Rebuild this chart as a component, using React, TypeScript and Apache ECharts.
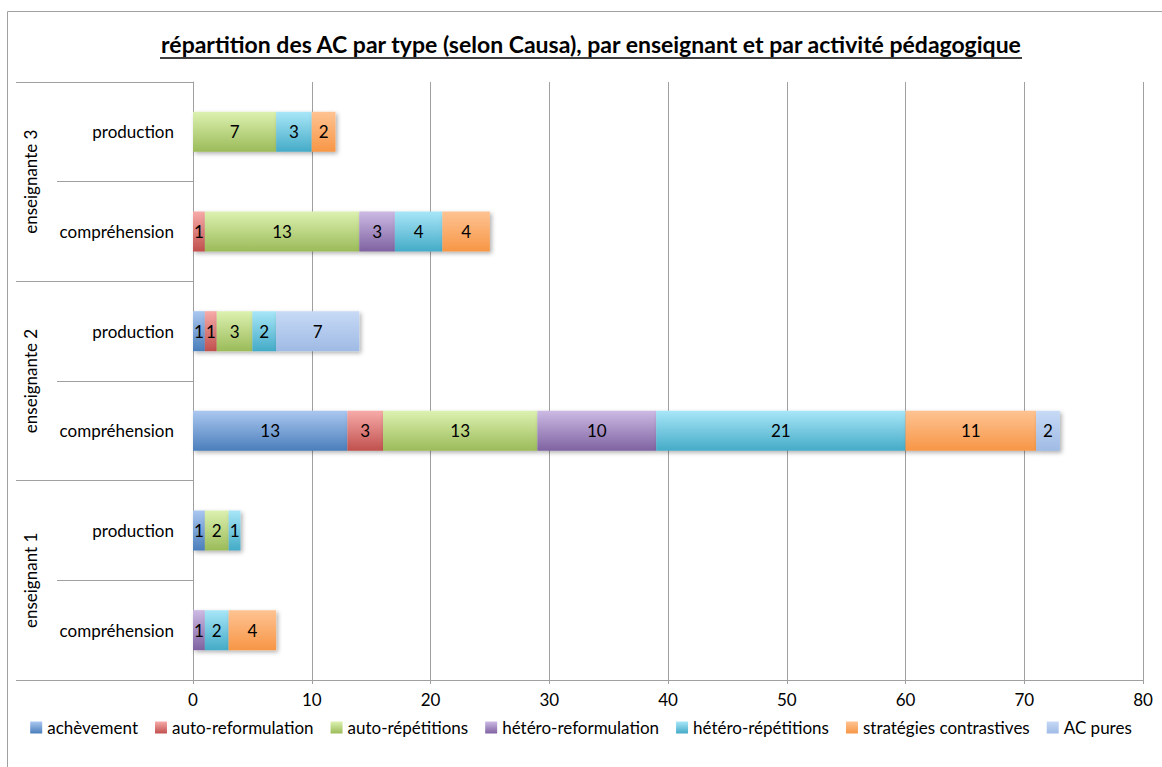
import React, { useEffect, useRef } from "react";
import * as echarts from "echarts";

const categories = ["compréhension", "production", "compréhension", "production", "compréhension", "production"];
const groups = ["enseignant 1", "enseignante 2", "enseignante 3"];
const titleText = "répartition des AC par type (selon Causa), par enseignant et par activité pédagogique";

const seriesNames = [
  "achèvement",
  "auto-reformulation",
  "auto-répétitions",
  "hétéro-reformulation",
  "hétéro-répétitions",
  "stratégies contrastives",
  "AC pures",
];
const achevement = [0, 1, 13, 1, 0, 0];
const autoReformulation = [0, 0, 3, 1, 1, 0];
const autoRepetitions = [0, 2, 13, 3, 13, 7];
const heteroReformulation = [1, 0, 10, 0, 3, 0];
const heteroRepetitions = [2, 1, 21, 2, 4, 3];
const strategiesContrastives = [4, 0, 11, 0, 4, 2];
const acPures = [0, 0, 2, 7, 0, 0];
const seriesValues = [achevement, autoReformulation, autoRepetitions, heteroReformulation, heteroRepetitions, strategiesContrastives, acPures];

const xMin = 0;
const xMax = 80;
const xInterval = 10;

const gradients = [
  ["#aac7f0", "#4a7ebb"],
  ["#f7aba9", "#c0504d"],
  ["#dcf1b0", "#9bbb59"],
  ["#ccbae4", "#7f62a1"],
  ["#a8e6f8", "#44abc7"],
  ["#fec392", "#f79646"],
  ["#c7daf6", "#9fbae4"],
];

const FONT = "Lato";
const GREY = "#a0a0a0";
const FS = 17;

export default function App() {
  const ref = useRef<HTMLDivElement>(null);
  useEffect(() => {
    if (!ref.current) return;
    const chart = echarts.init(ref.current, null, { renderer: "svg" });

    const titleSize = 23;
    let titleW = 904;
    try {
      const ctx = document.createElement("canvas").getContext("2d");
      if (ctx) {
        ctx.font = `bold ${titleSize}px ${FONT}`;
        titleW = ctx.measureText(titleText).width;
      }
    } catch (e) {}
    const titleCx = 591;

    const series = seriesNames.map((name, i) => ({
      name,
      type: "bar",
      stack: "total",
      yAxisIndex: 0,
      barWidth: 40,
      data: seriesValues[i].map((v) => (v === 0 ? null : v)),
      itemStyle: {
        color: new echarts.graphic.LinearGradient(0, 0, 0, 1, [
          { offset: 0, color: gradients[i][0] },
          { offset: 1, color: gradients[i][1] },
        ]),
        shadowColor: "rgba(0,0,0,0.3)",
        shadowBlur: 4,
        shadowOffsetX: 2,
        shadowOffsetY: 2,
      },
      label: {
        show: true,
        position: "inside",
        color: "#000",
        fontFamily: FONT,
        fontSize: FS,
      },
    }));

    chart.setOption({
      animation: false,
      backgroundColor: "#fff",
      grid: { left: 193, right: 19, top: 82, bottom: 87, containLabel: false },
      legend: {
        data: seriesNames,
        left: "center",
        top: 714,
        icon: "rect",
        itemWidth: 12,
        itemHeight: 12,
        itemGap: 17,
        textStyle: { fontFamily: FONT, fontSize: FS, color: "#000" },
      },
      xAxis: {
        type: "value",
        min: xMin,
        max: xMax,
        interval: xInterval,
        axisLine: { show: true, lineStyle: { color: GREY } },
        axisTick: { show: true, length: 4, lineStyle: { color: GREY } },
        splitLine: { show: true, lineStyle: { color: GREY, width: 1 } },
        axisLabel: { color: "#000", fontFamily: FONT, fontSize: FS, margin: 11 },
      },
      yAxis: [
        {
          type: "category",
          data: categories,
          position: "left",
          axisLine: { show: true, lineStyle: { color: GREY } },
          axisTick: { show: true, interval: 0, length: 136, lineStyle: { color: GREY } },
          axisLabel: { interval: 0, color: "#000", fontFamily: FONT, fontSize: FS, margin: 19 },
        },
        {
          type: "category",
          data: groups,
          position: "left",
          offset: 0,
          axisLine: { show: false },
          axisTick: { show: true, interval: 0, length: 177, lineStyle: { color: GREY } },
          axisLabel: { interval: 0, rotate: 90, color: "#000", fontFamily: FONT, fontSize: FS, margin: 154 },
        },
      ],
      graphic: [
        {
          type: "rect",
          silent: true,
          shape: { x: 7.5, y: 11.5, width: 1300, height: 900 },
          style: { fill: "none", stroke: GREY, lineWidth: 1 },
        },
        {
          type: "text",
          x: titleCx,
          y: 44,
          style: {
            text: titleText,
            fontFamily: FONT,
            fontWeight: "bold",
            fontSize: titleSize,
            fill: "#000",
            align: "center",
            verticalAlign: "middle",
          },
        },
        {
          type: "line",
          silent: true,
          shape: { x1: titleCx - titleW / 2, y1: 58, x2: titleCx + titleW / 2, y2: 58 },
          style: { stroke: "#000", lineWidth: 1.6 },
        },
      ],
      series,
    });
    return () => chart.dispose();
  }, []);
  return <div ref={ref} style={{ position: "fixed", left: 0, top: 0, width: 1162, height: 767 }} />;
}
